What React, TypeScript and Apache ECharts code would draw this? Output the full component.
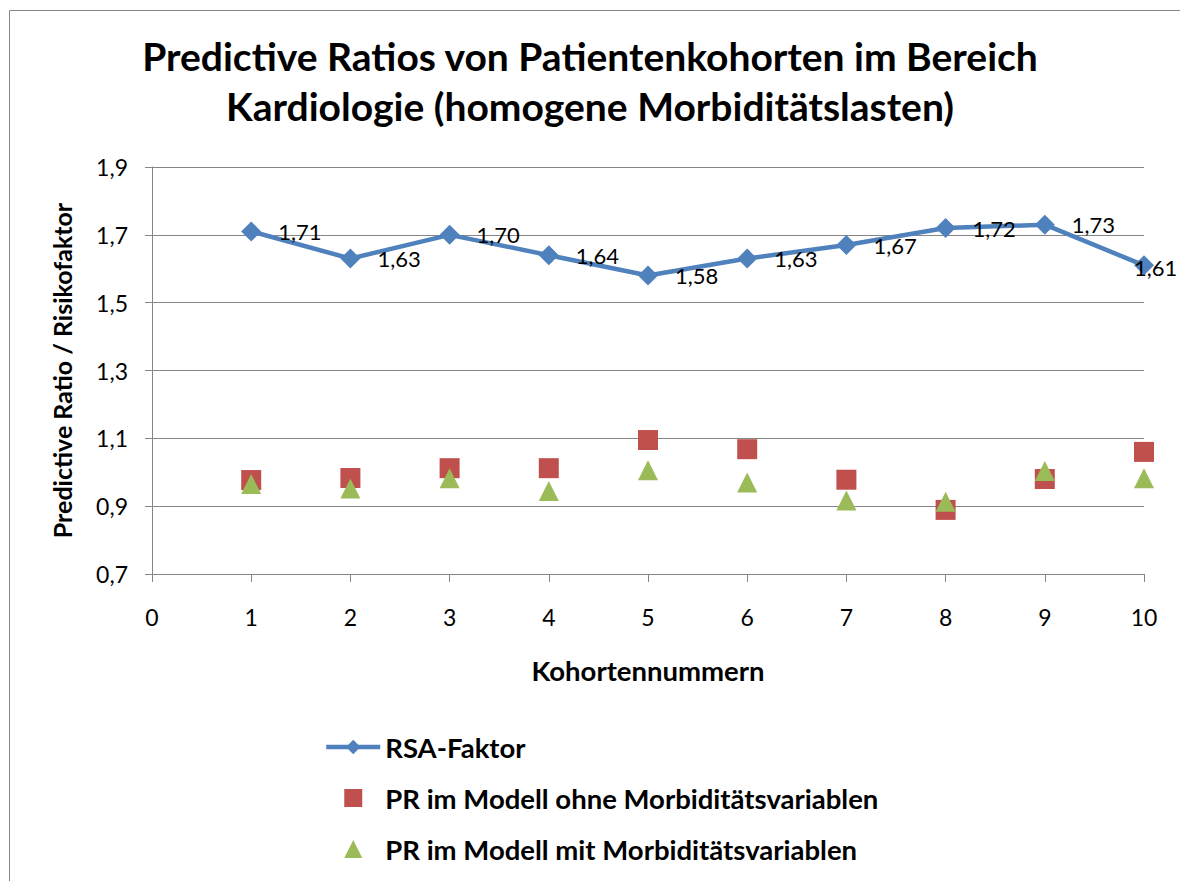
import React, { useEffect, useRef } from "react";
import * as echarts from "echarts";

const cohorts = [1, 2, 3, 4, 5, 6, 7, 8, 9, 10];
const rsaFaktor = [1.71, 1.63, 1.70, 1.64, 1.58, 1.63, 1.67, 1.72, 1.73, 1.61];
const prOhne = [0.977, 0.983, 1.012, 1.012, 1.095, 1.068, 0.978, 0.889, 0.980, 1.060];
const prMit = [0.965, 0.952, 0.982, 0.945, 1.006, 0.970, 0.917, 0.913, 1.004, 0.982];
const yTicks = { min: 0.7, max: 1.9, interval: 0.2 };
const xTicks = { min: 0, max: 10, interval: 1 };

const seriesNames = [
  "RSA-Faktor",
  "PR im Modell ohne Morbiditätsvariablen",
  "PR im Modell mit Morbiditätsvariablen",
];

const FONT = "Lato";
const fmt = (v: number, d: number) => v.toFixed(d).replace(".", ",");

export default function App() {
  const ref = useRef<HTMLDivElement>(null);
  useEffect(() => {
    if (!ref.current) return;
    const chart = echarts.init(ref.current, undefined, { renderer: "svg" });
    const axisColor = "#868686";
    chart.setOption({
      animation: false,
      backgroundColor: "#ffffff",
      textStyle: { fontFamily: FONT },
      title: {
        text: "Predictive Ratios von Patientenkohorten im Bereich\nKardiologie (homogene Morbiditätslasten)",
        left: "center",
        top: 26,
        textStyle: {
          fontFamily: FONT,
          fontWeight: "bold",
          fontSize: 39,
          lineHeight: 50,
          color: "#000",
        },
      },
      graphic: [
        {
          type: "rect",
          shape: { x: 9.5, y: 10.5, width: 1300, height: 1000 },
          style: { fill: "none", stroke: axisColor, lineWidth: 1 },
          silent: true,
          z: -1,
        },
      ],
      legend: {
        orient: "vertical",
        left: 319,
        top: 728,
        itemWidth: 54,
        itemHeight: 18,
        itemGap: 23,
        textStyle: {
          fontFamily: FONT,
          fontWeight: "bold",
          fontSize: 27.5,
          lineHeight: 28,
          color: "#000",
        },
        data: [
          { name: seriesNames[0], lineStyle: { width: 4.5 } },
          { name: seriesNames[1], icon: "path://M0,0L10,0L10,10L0,10Z" },
          { name: seriesNames[2], icon: "path://M5,0L10,10L0,10Z" },
        ],
      },
      grid: { left: 152, right: 36, top: 167, bottom: 307, containLabel: false },
      xAxis: {
        type: "value",
        min: xTicks.min,
        max: xTicks.max,
        interval: xTicks.interval,
        name: "Kohortennummern",
        nameLocation: "middle",
        nameGap: 82,
        nameTextStyle: { fontFamily: FONT, fontWeight: "bold", fontSize: 27.5, color: "#000" },
        axisLine: { lineStyle: { color: axisColor, width: 1 } },
        axisTick: { show: true, length: 8, lineStyle: { color: axisColor } },
        axisLabel: { fontFamily: FONT, fontSize: 23, color: "#000", margin: 31 },
        splitLine: { show: false },
      },
      yAxis: {
        type: "value",
        min: yTicks.min,
        max: yTicks.max,
        interval: yTicks.interval,
        name: "Predictive Ratio / Risikofaktor",
        nameLocation: "middle",
        nameRotate: 90,
        nameGap: 78,
        nameTextStyle: { fontFamily: FONT, fontWeight: "bold", fontSize: 25, color: "#000" },
        axisLine: { show: true, lineStyle: { color: axisColor, width: 1 } },
        axisTick: { show: true, length: 7, lineStyle: { color: axisColor } },
        axisLabel: {
          fontFamily: FONT,
          fontSize: 23,
          color: "#000",
          margin: 24,
          formatter: (v: number) => fmt(v, 1),
        },
        splitLine: { show: true, lineStyle: { color: axisColor, width: 1 } },
      },
      series: [
        {
          name: seriesNames[0],
          type: "line",
          data: cohorts.map((c, i) => {
            const item: any = { value: [c, rsaFaktor[i]] };
            if (i === cohorts.length - 1) item.label = { offset: [-37, 2] };
            return item;
          }),
          symbol: "diamond",
          symbolSize: 20,
          lineStyle: { color: "#4F81BD", width: 4.5 },
          itemStyle: { color: "#4F81BD", opacity: 1 },
          label: {
            show: true,
            position: "right",
            distance: 17,
            fontFamily: FONT,
            fontSize: 22,
            color: "#000",
            formatter: (p: any) => fmt(p.value[1], 2),
          },
          z: 3,
        },
        {
          name: seriesNames[1],
          type: "scatter",
          data: cohorts.map((c, i) => [c, prOhne[i]]),
          symbol: "rect",
          symbolSize: 20,
          itemStyle: { color: "#C0504D", opacity: 1 },
          z: 2,
        },
        {
          name: seriesNames[2],
          type: "scatter",
          data: cohorts.map((c, i) => [c, prMit[i]]),
          symbol: "triangle",
          symbolSize: 20,
          itemStyle: { color: "#9BBB59", opacity: 1 },
          z: 4,
        },
      ],
    });
    return () => chart.dispose();
  }, []);
  return (
    <div
      ref={ref}
      style={{ position: "absolute", left: 0, top: 0, width: 1180, height: 881 }}
    />
  );
}
